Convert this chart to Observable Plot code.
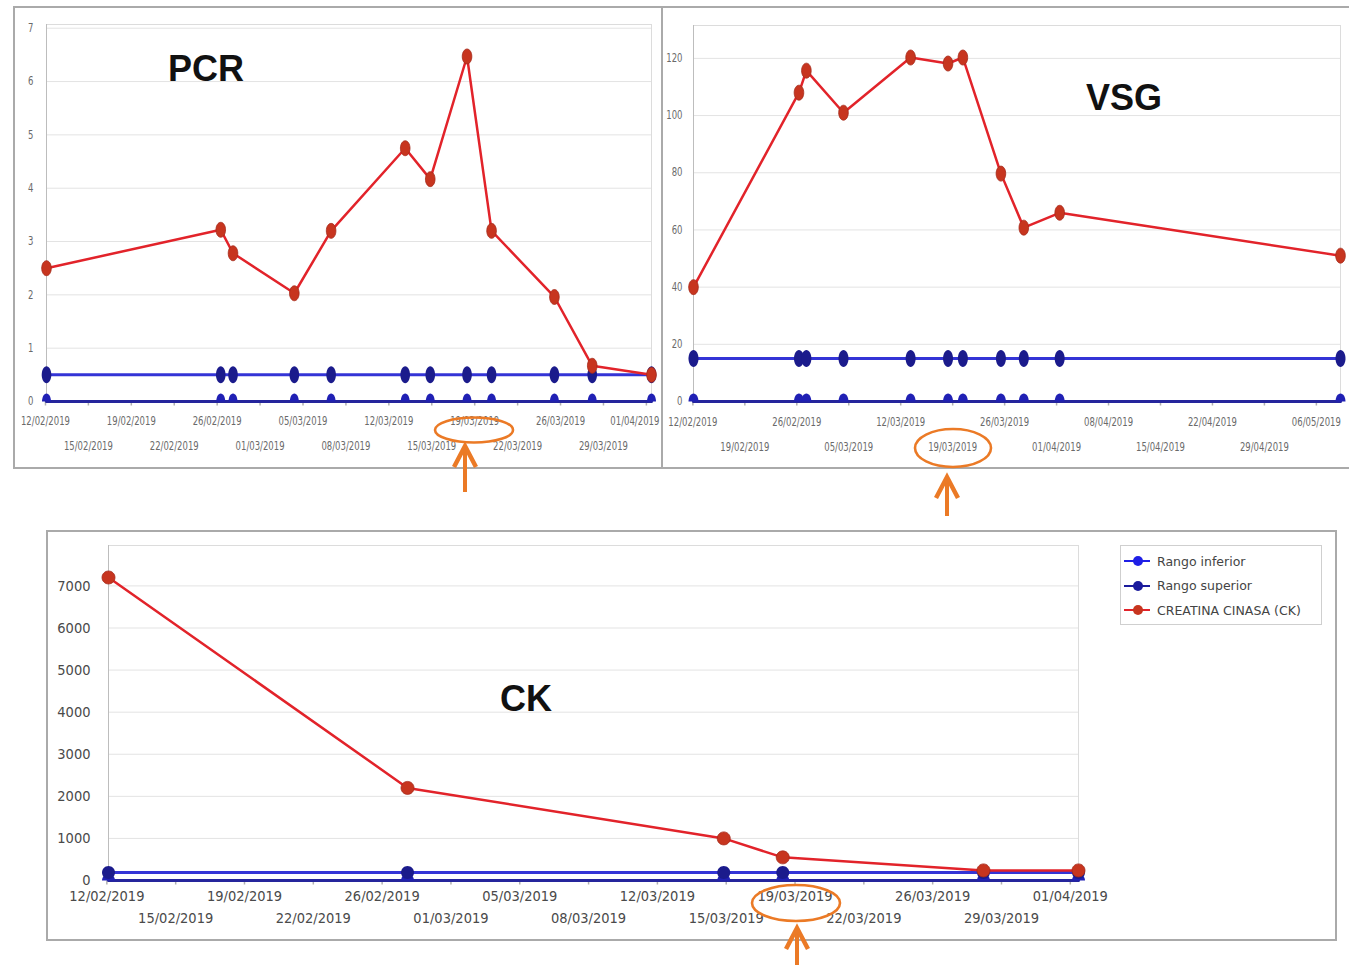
<!DOCTYPE html>
<html><head><meta charset="utf-8">
<script src="https://cdn.jsdelivr.net/npm/d3@7"></script>
<script src="https://cdn.jsdelivr.net/npm/@observablehq/plot@0.6"></script>
<style>
html,body{margin:0;padding:0;background:#fff;}
#page{position:relative;width:1349px;height:965px;overflow:hidden;background:#fff;font-family:"DejaVu Sans",sans-serif;}
.panel{position:absolute;border:2px solid #aaaaaa;box-sizing:border-box;}
.chart{position:absolute;}
.title{position:absolute;font:bold 36px "Liberation Sans",Arial,sans-serif;color:#111;line-height:36px;white-space:nowrap;}
.legend{position:absolute;border:1px solid #cfcfcf;box-sizing:border-box;background:#fff;}
.legend .item{position:absolute;left:2px;height:16px;display:flex;align-items:center;font:12.5px "DejaVu Sans",sans-serif;color:#444;white-space:nowrap;}
.legend svg{margin-right:6px;}
#annot{position:absolute;left:0;top:0;pointer-events:none;}
</style></head>
<body><div id="page"></div>
<script>
// ---------------- DATA ----------------
const pcrDates = ["2019-02-12T02:00","2019-02-26T07:00","2019-02-27T07:00","2019-03-04T07:00","2019-03-07T07:00","2019-03-13T08:00","2019-03-15T09:00","2019-03-18T09:00","2019-03-20T09:00","2019-03-25T12:00","2019-03-28T14:00","2019-04-02T10:00"];
const pcrValues = [2.5, 3.22, 2.78, 2.03, 3.2, 4.75, 4.17, 6.47, 3.2, 1.96, 0.67, 0.5];
const pcrInferior = 0;
const pcrSuperior = 0.5;

const vsgDates = ["2019-02-12T02:00","2019-02-26T07:00","2019-02-27T07:00","2019-03-04T07:00","2019-03-13T08:00","2019-03-18T09:00","2019-03-20T09:00","2019-03-25T12:00","2019-03-28T14:00","2019-04-02T10:00","2019-05-10T06:00"];
const vsgValues = [40, 108, 115.7, 101, 120.3, 118.2, 120.3, 79.7, 60.8, 66, 51];
const vsgInferior = 0;
const vsgSuperior = 15;

const ckDates = ["2019-02-12T02:00","2019-02-27T07:00","2019-03-15T09:00","2019-03-18T09:00","2019-03-28T14:00","2019-04-02T10:00"];
const ckValues = [7200, 2200, 1000, 550, 240, 240];
const ckInferior = 0;
const ckSuperior = 190;

const pcrYTicks = [0,1,2,3,4,5,6,7];
const vsgYTicks = [0,20,40,60,80,100,120];
const ckYTicks = [0,1000,2000,3000,4000,5000,6000,7000];

const shortTickDates = ["2019-02-12T00:00","2019-02-15T12:00","2019-02-19T00:00","2019-02-22T12:00","2019-02-26T00:00","2019-03-01T12:00","2019-03-05T00:00","2019-03-08T12:00","2019-03-12T00:00","2019-03-15T12:00","2019-03-19T00:00","2019-03-22T12:00","2019-03-26T00:00","2019-03-29T12:00","2019-04-02T00:00"];
const shortTickLabels = ["12/02/2019","15/02/2019","19/02/2019","22/02/2019","26/02/2019","01/03/2019","05/03/2019","08/03/2019","12/03/2019","15/03/2019","19/03/2019","22/03/2019","26/03/2019","29/03/2019","01/04/2019"];
const vsgTickDates = ["2019-02-12T00:00","2019-02-19T00:00","2019-02-26T00:00","2019-03-05T00:00","2019-03-12T00:00","2019-03-19T00:00","2019-03-26T00:00","2019-04-02T00:00","2019-04-09T00:00","2019-04-16T00:00","2019-04-23T00:00","2019-04-30T00:00","2019-05-07T00:00"];
const vsgTickLabels = ["12/02/2019","19/02/2019","26/02/2019","05/03/2019","12/03/2019","19/03/2019","26/03/2019","01/04/2019","08/04/2019","15/04/2019","22/04/2019","29/04/2019","06/05/2019"];

const legendNames = ["Rango inferior","Rango superior","CREATINA CINASA (CK)"];
const titles = ["PCR","VSG","CK"];

// ---------------- STYLE ----------------
const COL = {
  infLine:"#25259c", infFill:"#2020b4",
  supLine:"#3434d6", supFill:"#1b1b8c",
  red:"#e2232a", redFill:"#c7351f", redStroke:"#a52a1a",
  legInf:"#1f1fe6", legSup:"#1b1b9c"
};
const K = 0.5523;
const ellipse = (rx, ry) => ({draw(c){c.moveTo(rx,0);c.bezierCurveTo(rx,ry*K,rx*K,ry,0,ry);c.bezierCurveTo(-rx*K,ry,-rx,ry*K,-rx,0);c.bezierCurveTo(-rx,-ry*K,-rx*K,-ry,0,-ry);c.bezierCurveTo(rx*K,-ry,rx,-ry*K,rx,0);c.closePath();}});
const topHalf = (rx, ry) => ({draw(c){c.moveTo(rx,0);c.bezierCurveTo(rx,-ry*K,rx*K,-ry,0,-ry);c.bezierCurveTo(-rx*K,-ry,-rx,-ry*K,-rx,0);c.closePath();}});
const vtick = {draw(c){c.moveTo(0,0);c.lineTo(0,4);}};

const page = document.getElementById("page");
function add(tag, cls, css, html){const e=document.createElement(tag); if(cls) e.className=cls; Object.assign(e.style, css); if(html!=null) e.innerHTML=html; page.appendChild(e); return e;}

// panel borders
add("div","panel",{left:"13px",top:"6px",width:"650px",height:"463px"});
add("div","panel",{left:"661px",top:"6px",width:"700px",height:"463px"});
add("div","panel",{left:"46px",top:"530px",width:"1291px",height:"411px"});

function lineChart(o){
  const rows = o.dates.map((d,i)=>({date:new Date(d), value:o.values[i], low:o.inf, high:o.sup}));
  const ticks = o.tickDates.map((d,i)=>({date:new Date(d), label:o.tickLabels[i], row:i%2, last:i===o.tickDates.length-1}));
  const txt = {fontFamily:"DejaVu Sans", fontSize:o.fontSize, fill:o.textColor};
  const row0 = ticks.filter(t=>t.row===0 && !(o.lastEnd && t.last));
  const row0End = ticks.filter(t=>t.row===0 && o.lastEnd && t.last);
  return Plot.plot({
    width:o.width, height:o.height,
    marginLeft:o.m[0], marginRight:o.m[1], marginTop:o.m[2], marginBottom:o.m[3],
    x:{type:"time", domain:d3.extent(rows, r=>r.date), axis:null},
    y:{domain:[0,o.yMax], axis:null},
    style:{background:"transparent", overflow:"visible"},
    marks:[
      Plot.ruleY(o.yTicks.filter(v=>v>0), {stroke:"#e3e3e3"}),
      Plot.frame({stroke:"#dcdcdc"}),
      Plot.ruleX([rows[0].date], {stroke:"#bdbdbd"}),
      Plot.dot(ticks, {x:"date", frameAnchor:"bottom", symbol:vtick, stroke:"#b0b0b0", fill:"none"}),
      Plot.line(rows, {x:"date", y:"low", stroke:COL.infLine, strokeWidth:3}),
      Plot.line(rows, {x:"date", y:"high", stroke:COL.supLine, strokeWidth:3}),
      Plot.dot(rows, {x:"date", y:"low", symbol:o.lowSym, fill:COL.infFill, stroke:"none"}),
      Plot.dot(rows, {x:"date", y:"high", symbol:o.highSym, fill:COL.supFill, stroke:"none"}),
      Plot.line(rows, {x:"date", y:"value", stroke:COL.red, strokeWidth:2.5}),
      Plot.dot(rows, {x:"date", y:"value", symbol:o.redSym, fill:COL.redFill, stroke:COL.redStroke, strokeWidth:0.8}),
      Plot.text(o.yTicks, {y:d=>d, text:d=>String(d), frameAnchor:"left", textAnchor:"end", dx:o.yDx, ...txt}),
      Plot.text(row0, {x:"date", text:"label", frameAnchor:"bottom", dy:o.rowDy[0], ...txt}),
      Plot.text(row0End, {x:"date", text:"label", frameAnchor:"bottom", textAnchor:"end", dx:13, dy:o.rowDy[0], ...txt}),
      Plot.text(ticks.filter(t=>t.row===1), {x:"date", text:"label", frameAnchor:"bottom", dy:o.rowDy[1], ...txt})
    ]
  });
}

function place(svg, left, top, w, h, squeeze){
  const d = add("div","chart",{left:left+"px",top:top+"px",width:w+"px",height:h+"px"});
  d.appendChild(svg);
  // narrow the (tall, condensed) label glyphs like the source rendering
  svg.querySelectorAll("text").forEach(t=>{
    const tr = t.getAttribute("transform") || "";
    t.setAttribute("transform", (tr + ` scale(${squeeze},1)`).trim());
  });
}

// PCR
place(lineChart({
  dates:pcrDates, values:pcrValues, inf:pcrInferior, sup:pcrSuperior,
  yTicks:pcrYTicks, yMax:7.07, tickDates:shortTickDates, tickLabels:shortTickLabels,
  width:647, height:459, m:[32,10,16,66], yDx:-13, rowDy:[23,48], fontSize:11.5, textColor:"#6a6a6a", lastEnd:true,
  lowSym:topHalf(4.5,8), highSym:ellipse(4.8,8.5), redSym:ellipse(4.8,7.5)
}), 14, 8, 647, 459, 0.74);

// VSG
place(lineChart({
  dates:vsgDates, values:vsgValues, inf:vsgInferior, sup:vsgSuperior,
  yTicks:vsgYTicks, yMax:131.5, tickDates:vsgTickDates, tickLabels:vsgTickLabels,
  width:686, height:459, m:[30,9,17,66], yDx:-11, rowDy:[24,49], fontSize:11.5, textColor:"#6a6a6a",
  lowSym:topHalf(5,8), highSym:ellipse(5,8.5), redSym:ellipse(4.8,7.5)
}), 663, 8, 686, 459, 0.74);

// CK
place(lineChart({
  dates:ckDates, values:ckValues, inf:ckInferior, sup:ckSuperior,
  yTicks:ckYTicks, yMax:7960, tickDates:shortTickDates, tickLabels:shortTickLabels,
  width:1287, height:407, m:[60,257,13,59], yDx:-18, rowDy:[20,42], fontSize:14.5, textColor:"#4a4a4a",
  lowSym:topHalf(6.5,6.5), highSym:ellipse(6.5,6.5), redSym:ellipse(6.5,6.5)
}), 48, 532, 1287, 407, 0.9);

// legend
const leg = add("div","legend",{left:"1120px",top:"545px",width:"202px",height:"80px"});
const legColors = [[COL.legInf,COL.legInf],[COL.legSup,COL.legSup],[COL.red,COL.redFill]];
legendNames.forEach((n,i)=>{
  const it = document.createElement("div"); it.className="item";
  it.style.top = (7 + i*24.5) + "px";
  it.innerHTML = `<svg width="28" height="12"><line x1="1" x2="27" y1="6" y2="6" stroke="${legColors[i][0]}" stroke-width="2"/><circle cx="15" cy="6" r="5" fill="${legColors[i][1]}"/></svg><span>${n}</span>`;
  leg.appendChild(it);
});

// titles
add("div","title",{left:"168px",top:"51px"},titles[0]);
add("div","title",{left:"1086px",top:"80px"},titles[1]);
add("div","title",{left:"500px",top:"681px"},titles[2]);

// annotations (highlight of 19/03/2019)
const ns="http://www.w3.org/2000/svg";
const an = document.createElementNS(ns,"svg");
an.setAttribute("id","annot"); an.setAttribute("width",1349); an.setAttribute("height",965);
const OR="#eb7a26";
const anns = [
  {cx:474,cy:430,rx:39,ry:12.5,ax:465,ay:446,ab:492},
  {cx:953,cy:448,rx:38,ry:19,ax:947,ay:477,ab:516},
  {cx:796,cy:903,rx:44,ry:18,ax:797,ay:928,ab:968}
];
an.innerHTML = anns.map(a=>`<ellipse cx="${a.cx}" cy="${a.cy}" rx="${a.rx}" ry="${a.ry}" fill="none" stroke="${OR}" stroke-width="2.6"/>
<line x1="${a.ax}" x2="${a.ax}" y1="${a.ay+2}" y2="${a.ab}" stroke="${OR}" stroke-width="4"/>
<polyline points="${a.ax-11},${a.ay+21} ${a.ax},${a.ay} ${a.ax+11},${a.ay+21}" fill="none" stroke="${OR}" stroke-width="4.5" stroke-linejoin="miter"/>`).join("");
page.appendChild(an);
</script>
</body></html>
